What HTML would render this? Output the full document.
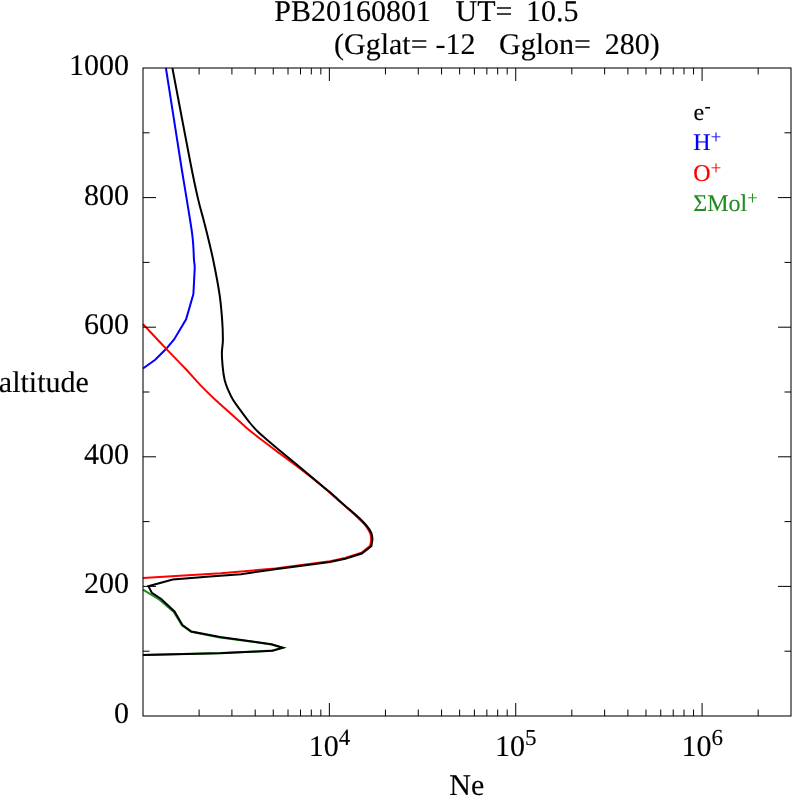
<!DOCTYPE html>
<html><head><meta charset="utf-8"><title>plot</title>
<style>
html,body{margin:0;padding:0;background:#fff;}
body{width:792px;height:796px;overflow:hidden;}
svg{display:block;position:absolute;left:0;top:0;will-change:transform;}
text{font-family:"Liberation Serif",serif;text-rendering:geometricPrecision;stroke-width:0.12px;stroke-linejoin:round;}
</style></head><body>
<svg width="792" height="796" viewBox="0 0 792 796">
<rect x="0" y="0" width="792" height="796" fill="#fff"/>

<defs><clipPath id="c"><rect x="142.0" y="67.0" width="650.0" height="650.0"/></clipPath></defs>
<g clip-path="url(#c)" fill="none" stroke-width="2.00" stroke-linejoin="miter" stroke-linecap="butt">
<path stroke="#0000ff" d="M165.9 68.0C168.3 83.3 176.9 138.3 180.3 160.0C183.7 181.7 184.5 185.3 186.5 197.9C188.5 210.5 191.2 225.5 192.4 235.8C193.7 246.2 193.6 254.5 194.0 260.0C194.4 265.5 194.8 263.1 194.7 268.8L193.4 294.1L186.1 319.3L174.1 339.5L166.2 348.8L155.2 359.7L143.0 368.5"/>
<path stroke="#ff0000" d="M143.0 324.1C145.5 326.8 154.0 335.8 157.9 340.0C161.8 344.2 161.9 344.3 166.5 349.1C171.1 353.9 179.8 362.8 185.5 368.8C191.2 374.9 195.5 380.1 200.6 385.4C205.7 390.6 210.8 395.6 215.8 400.3C220.9 405.0 225.9 409.3 230.9 413.8C235.9 418.3 241.2 423.2 246.1 427.4C251.0 431.6 254.5 434.4 260.2 438.8C265.9 443.2 273.7 449.0 280.4 454.0C287.1 459.0 293.9 463.8 300.6 469.0C307.3 474.2 314.1 479.5 320.8 485.1C327.5 490.7 335.0 497.4 341.0 502.6C347.0 507.8 352.5 512.6 356.6 516.5C360.8 520.4 363.6 523.2 365.9 526.0C368.2 528.8 369.4 531.1 370.3 533.4C371.2 535.7 371.2 537.7 371.2 539.8L370.2 545.8L361.5 552.8L345.2 558.0L330.0 561.2L305.5 564.5L275.2 568.4L220.8 573.3L143.0 578.0"/>
<polyline stroke="#228b22" points="143.0,589.7 159.5,599.7 173.8,612.0 182.0,625.3 191.1,631.8 220.0,637.4 271.5,644.5 282.6,647.7 272.5,650.6 220.0,653.1 143.0,655.0"/>
<path stroke="#000" d="M172.4 68.0C175.3 83.3 185.7 138.3 189.9 160.0C194.1 181.7 195.5 187.9 197.8 197.9C200.1 207.9 202.0 213.7 203.6 220.0C205.2 226.3 206.0 229.1 207.6 235.8C209.2 242.5 211.2 250.3 213.2 260.0C215.2 269.7 218.0 284.2 219.5 294.1C221.0 304.0 221.5 311.7 222.1 319.3C222.7 326.9 222.9 334.0 222.9 339.5C222.9 345.0 222.0 347.7 221.9 352.1C221.8 356.5 222.2 361.2 222.6 365.8C223.0 370.4 223.7 375.8 224.6 379.8C225.5 383.8 226.6 386.3 228.0 389.7C229.4 393.1 231.2 396.8 233.3 400.3C235.5 403.8 238.2 407.2 240.9 410.9C243.6 414.6 246.8 419.0 249.6 422.5C252.4 426.0 255.4 429.2 258.0 431.8C260.6 434.4 261.5 435.1 265.2 438.3C268.9 441.5 275.2 446.8 280.3 451.0C285.4 455.2 289.7 458.6 295.5 463.5C301.3 468.4 309.4 475.2 315.2 480.1C321.0 485.0 325.3 488.3 330.3 492.6C335.3 496.9 340.6 501.9 345.0 505.7C349.4 509.5 352.9 512.3 356.5 515.6C360.1 518.9 363.9 522.6 366.4 525.5C368.9 528.4 370.3 530.6 371.3 533.0C372.3 535.4 372.4 537.6 372.4 539.8L371.3 546.3L361.8 553.5L345.2 558.8L330.0 562.0L305.5 565.2L275.2 569.2L241.0 574.2L210.0 576.5L172.7 579.6L148.4 586.2L151.9 592.9L161.2 599.0L174.5 611.4L182.4 625.1L191.4 631.5L220.0 637.1L271.5 644.2L283.0 647.7L272.5 650.8L220.0 653.3L143.0 655.1"/>
</g>
<path d="M143.00 651.20h6.50M791.00 651.20h-6.50M143.00 586.40h13.00M791.00 586.40h-13.00M143.00 521.60h6.50M791.00 521.60h-6.50M143.00 456.80h13.00M791.00 456.80h-13.00M143.00 392.00h6.50M791.00 392.00h-6.50M143.00 327.20h13.00M791.00 327.20h-13.00M143.00 262.40h6.50M791.00 262.40h-6.50M143.00 197.60h13.00M791.00 197.60h-13.00M143.00 132.80h6.50M791.00 132.80h-6.50M199.10 716.00v-6.50M199.10 68.00v6.50M231.92 716.00v-6.50M231.92 68.00v6.50M255.20 716.00v-6.50M255.20 68.00v6.50M273.26 716.00v-6.50M273.26 68.00v6.50M288.02 716.00v-6.50M288.02 68.00v6.50M300.49 716.00v-6.50M300.49 68.00v6.50M311.30 716.00v-6.50M311.30 68.00v6.50M320.83 716.00v-6.50M320.83 68.00v6.50M329.36 716.00v-13.00M329.36 68.00v13.00M385.46 716.00v-6.50M385.46 68.00v6.50M418.28 716.00v-6.50M418.28 68.00v6.50M441.56 716.00v-6.50M441.56 68.00v6.50M459.62 716.00v-6.50M459.62 68.00v6.50M474.38 716.00v-6.50M474.38 68.00v6.50M486.85 716.00v-6.50M486.85 68.00v6.50M497.66 716.00v-6.50M497.66 68.00v6.50M507.19 716.00v-6.50M507.19 68.00v6.50M515.72 716.00v-13.00M515.72 68.00v13.00M571.82 716.00v-6.50M571.82 68.00v6.50M604.64 716.00v-6.50M604.64 68.00v6.50M627.92 716.00v-6.50M627.92 68.00v6.50M645.98 716.00v-6.50M645.98 68.00v6.50M660.74 716.00v-6.50M660.74 68.00v6.50M673.22 716.00v-6.50M673.22 68.00v6.50M684.02 716.00v-6.50M684.02 68.00v6.50M693.56 716.00v-6.50M693.56 68.00v6.50M702.08 716.00v-13.00M702.08 68.00v13.00M758.18 716.00v-6.50M758.18 68.00v6.50" stroke="#000" stroke-width="1.00" fill="none"/>
<rect x="143.0" y="68.0" width="648.0" height="648.0" fill="none" stroke="#000" stroke-width="1.05"/>
<g font-size="30px" fill="#000" stroke="#000">
<text x="274.3" y="20.8" xml:space="preserve">PB20160801</text>
<text x="455.6" y="20.8">UT=</text>
<text x="526.0" y="20.8">10.5</text>
<text x="334.0" y="53.5">(Gglat=</text>
<text x="435.4" y="53.5">-12</text>
<text x="499.0" y="53.5">Gglon=</text>
<text x="604.7" y="53.5">280)</text>
<text x="129" y="723.0" text-anchor="end">0</text>
<text x="129" y="593.4" text-anchor="end">200</text>
<text x="129" y="463.8" text-anchor="end">400</text>
<text x="129" y="334.2" text-anchor="end">600</text>
<text x="129" y="204.6" text-anchor="end">800</text>
<text x="129" y="75.0" text-anchor="end">1000</text>
<text x="-1.2" y="392.0">altitude</text>
<text x="466.8" y="795.3" text-anchor="middle">Ne</text>
<text x="308.7" y="755.7">10<tspan font-size="23px" dy="-10.5">4</tspan></text>
<text x="495.0" y="755.7">10<tspan font-size="23px" dy="-10.5">5</tspan></text>
<text x="681.4" y="755.7">10<tspan font-size="23px" dy="-10.5">6</tspan></text>
</g>
<text x="693.5" y="119.7" font-size="24.0px" fill="#000" stroke="#000">e<tspan font-size="18.5px" dy="-7.8" dx="0.3">-</tspan></text>
<text x="693.3" y="149.9" font-size="24.0px" fill="#0000ff" stroke="#0000ff">H<tspan font-size="18.5px" dy="-6.6" dx="0.0">+</tspan></text>
<text x="693.3" y="180.5" font-size="24.0px" fill="#ff0000" stroke="#ff0000">O<tspan font-size="18.5px" dy="-6.6" dx="0.0">+</tspan></text>
<text x="693.3" y="210.9" font-size="24.0px" fill="#228b22" stroke="#228b22">ΣMol<tspan font-size="18.5px" dy="-6.6" dx="0.0">+</tspan></text>
</svg></body></html>
